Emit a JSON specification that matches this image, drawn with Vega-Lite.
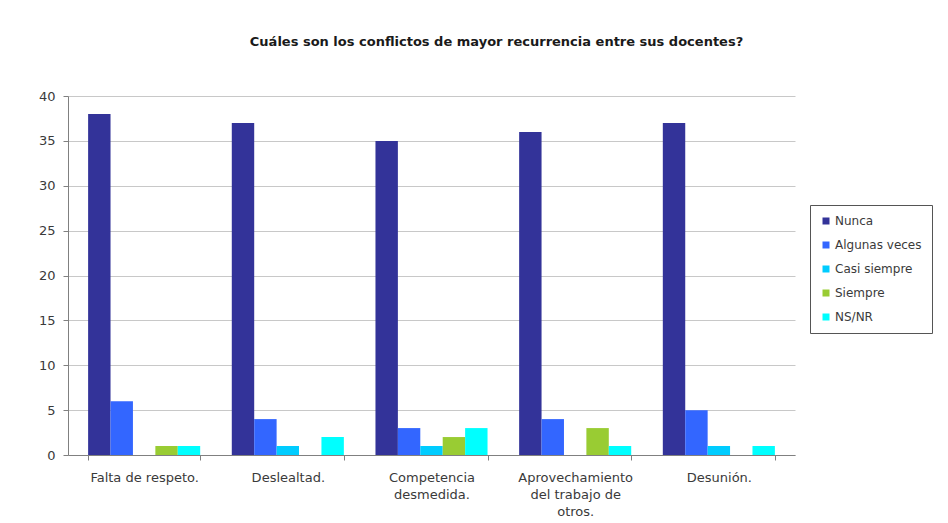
{
  "$schema": "https://vega.github.io/schema/vega-lite/v6.json",
  "width": 727,
  "height": 359,
  "autosize": {"type": "none"},
  "padding": {"left": 68, "top": 96, "right": 153, "bottom": 68},
  "background": "white",
  "title": {
    "text": "Cuáles son los conflictos de mayor recurrencia entre sus docentes?",
    "font": "DejaVu Sans",
    "fontSize": 13,
    "fontWeight": "bold",
    "color": "#1a1a1a",
    "anchor": "middle",
    "offset": 41,
    "dx": 65
  },
  "data": {
    "values": [
      {"conflicto": "Falta de respeto.", "respuesta": "Nunca", "valor": 38},
      {"conflicto": "Falta de respeto.", "respuesta": "Algunas veces", "valor": 6},
      {"conflicto": "Falta de respeto.", "respuesta": "Casi siempre", "valor": 0},
      {"conflicto": "Falta de respeto.", "respuesta": "Siempre", "valor": 1},
      {"conflicto": "Falta de respeto.", "respuesta": "NS/NR", "valor": 1},
      {"conflicto": "Deslealtad.", "respuesta": "Nunca", "valor": 37},
      {"conflicto": "Deslealtad.", "respuesta": "Algunas veces", "valor": 4},
      {"conflicto": "Deslealtad.", "respuesta": "Casi siempre", "valor": 1},
      {"conflicto": "Deslealtad.", "respuesta": "Siempre", "valor": 0},
      {"conflicto": "Deslealtad.", "respuesta": "NS/NR", "valor": 2},
      {"conflicto": "Competencia desmedida.", "respuesta": "Nunca", "valor": 35},
      {"conflicto": "Competencia desmedida.", "respuesta": "Algunas veces", "valor": 3},
      {"conflicto": "Competencia desmedida.", "respuesta": "Casi siempre", "valor": 1},
      {"conflicto": "Competencia desmedida.", "respuesta": "Siempre", "valor": 2},
      {"conflicto": "Competencia desmedida.", "respuesta": "NS/NR", "valor": 3},
      {"conflicto": "Aprovechamiento del trabajo de otros.", "respuesta": "Nunca", "valor": 36},
      {"conflicto": "Aprovechamiento del trabajo de otros.", "respuesta": "Algunas veces", "valor": 4},
      {"conflicto": "Aprovechamiento del trabajo de otros.", "respuesta": "Casi siempre", "valor": 0},
      {"conflicto": "Aprovechamiento del trabajo de otros.", "respuesta": "Siempre", "valor": 3},
      {"conflicto": "Aprovechamiento del trabajo de otros.", "respuesta": "NS/NR", "valor": 1},
      {"conflicto": "Desunión.", "respuesta": "Nunca", "valor": 37},
      {"conflicto": "Desunión.", "respuesta": "Algunas veces", "valor": 5},
      {"conflicto": "Desunión.", "respuesta": "Casi siempre", "valor": 1},
      {"conflicto": "Desunión.", "respuesta": "Siempre", "valor": 0},
      {"conflicto": "Desunión.", "respuesta": "NS/NR", "valor": 1}
    ]
  },
  "mark": {"type": "bar"},
  "encoding": {
    "x": {
      "field": "conflicto",
      "type": "nominal",
      "sort": ["Falta de respeto.", "Deslealtad.", "Competencia desmedida.", "Aprovechamiento del trabajo de otros.", "Desunión."],
      "scale": {"paddingInner": 0.22, "paddingOuter": 0.14},
      "axis": {
        "title": null,
        "labelAngle": 0,
        "tickBand": "extent",
        "labelExpr": "datum.value == 'Competencia desmedida.' ? ['Competencia', 'desmedida.'] : datum.value == 'Aprovechamiento del trabajo de otros.' ? ['Aprovechamiento', 'del trabajo de', 'otros.'] : datum.value",
        "labelFont": "DejaVu Sans",
        "labelFontSize": 13,
        "labelColor": "#3a3a3a",
        "labelLineHeight": 17,
        "labelBaseline": "top",
        "labelPadding": 11,
        "labelLimit": 200,
        "domainColor": "#808080",
        "tickColor": "#808080",
        "tickSize": 5
      }
    },
    "xOffset": {
      "field": "respuesta",
      "type": "nominal",
      "sort": ["Nunca", "Algunas veces", "Casi siempre", "Siempre", "NS/NR"]
    },
    "y": {
      "field": "valor",
      "type": "quantitative",
      "scale": {"domain": [0, 40], "nice": false},
      "axis": {
        "title": null,
        "values": [0, 5, 10, 15, 20, 25, 30, 35, 40],
        "grid": true,
        "gridColor": "#c8c8c8",
        "domainColor": "#808080",
        "tickColor": "#808080",
        "tickSize": 5,
        "labelFont": "DejaVu Sans",
        "labelFontSize": 13,
        "labelColor": "#3a3a3a",
        "labelPadding": 8
      }
    },
    "color": {
      "field": "respuesta",
      "type": "nominal",
      "sort": ["Nunca", "Algunas veces", "Casi siempre", "Siempre", "NS/NR"],
      "scale": {
        "domain": ["Nunca", "Algunas veces", "Casi siempre", "Siempre", "NS/NR"],
        "range": ["#333399", "#3366ff", "#00ccff", "#99cc33", "#00ffff"]
      },
      "legend": {
        "title": null,
        "orient": "none",
        "legendX": 742,
        "legendY": 109,
        "symbolType": "square",
        "symbolSize": 49,
        "symbolStrokeWidth": 0,
        "labelFont": "DejaVu Sans",
        "labelFontSize": 12,
        "labelColor": "#3a3a3a",
        "labelOffset": 3,
        "rowPadding": 12,
        "padding": 10,
        "strokeColor": "#555555",
        "fillColor": "white"
      }
    }
  },
  "config": {"view": {"stroke": null}}
}
